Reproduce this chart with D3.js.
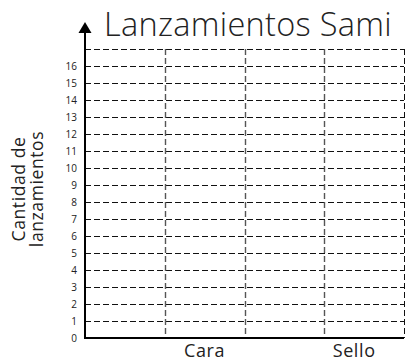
<!DOCTYPE html>
<html>
<head>
<meta charset="utf-8">
<script src="https://cdn.jsdelivr.net/npm/d3@7"></script>
<style>
  html, body { margin: 0; padding: 0; background: #fff; }
  svg { display: block; }
  text { font-family: "Open Sans", Lato, sans-serif; fill: #222; }
</style>
</head>
<body>
<svg id="chart" width="410" height="361"></svg>
<script>
// Chart content
const title = "Lanzamientos Sami";
const yLabelLines = ["Cantidad de", "lanzamientos"];
const columns = ["c1", "c2", "c3", "c4"];          // grid columns
const categories = ["Cara", "Sello"];               // coin outcomes
const categoryColumns = ["c2", "c4"];               // column under each outcome
const counts = [];                                  // no tosses recorded yet
const yTicks = d3.range(0, 17);                     // 0 … 16
const yMax = 17;

const svg = d3.select("#chart");
const margin = { left: 85, right: 6, top: 49, bottom: 23 };
const W = 410, H = 361;

const x = d3.scaleBand().domain(columns).range([margin.left, W - margin.right]);
const y = d3.scaleLinear().domain([0, yMax]).range([H - margin.bottom, margin.top]);
const crisp = v => Math.round(v) + 0.5;

// Horizontal dashed grid lines (1 … 17)
svg.append("g").selectAll("line")
  .data(d3.range(1, yMax + 1))
  .join("line")
  .attr("x1", margin.left).attr("x2", W - margin.right)
  .attr("y1", d => crisp(y(d))).attr("y2", d => crisp(y(d)))
  .attr("stroke", "#111").attr("stroke-width", 1)
  .attr("stroke-dasharray", "6,3");

// Vertical dashed column separators and right border
svg.append("g").selectAll("line")
  .data(columns)
  .join("line")
  .attr("x1", d => crisp(x(d) + x.bandwidth())).attr("x2", d => crisp(x(d) + x.bandwidth()))
  .attr("y1", y(yMax)).attr("y2", y(0))
  .attr("stroke", (d, i) => i === columns.length - 1 ? "#111" : "#555")
  .attr("stroke-width", (d, i) => i === columns.length - 1 ? 1 : 1.4)
  .attr("stroke-dasharray", "6,3");

// Y axis tick labels
const yAxis = d3.axisLeft(y).tickValues(yTicks).tickSize(0).tickPadding(8).tickFormat(d3.format("d"));
const gy = svg.append("g").attr("transform", `translate(${margin.left},0)`).call(yAxis);
gy.select(".domain").remove();
gy.selectAll("text").style("font-size", "10px").style("font-family", "\"Open Sans\", sans-serif").attr("fill", "#222");

// Y axis line with arrow
svg.append("line")
  .attr("x1", margin.left).attr("x2", margin.left)
  .attr("y1", y(0) + 1).attr("y2", 32)
  .attr("stroke", "#000").attr("stroke-width", 2);
svg.append("path")
  .attr("d", `M${margin.left - 6.5},33 L${margin.left + 6.5},33 L${margin.left},22 Z`)
  .attr("fill", "#000");

// X axis baseline
svg.append("line")
  .attr("x1", margin.left - 1).attr("x2", W - margin.right)
  .attr("y1", y(0)).attr("y2", y(0))
  .attr("stroke", "#000").attr("stroke-width", 2);

// Category labels
svg.append("g").selectAll("text")
  .data(categories)
  .join("text")
  .attr("x", (d, i) => x(categoryColumns[i]) + x.bandwidth() / 2 - (i === 1 ? 10 : 0))
  .attr("y", y(0) + 19)
  .attr("text-anchor", "middle")
  .style("font-size", "18px")
  .style("letter-spacing", "0.6px")
  .text(d => d);

// Y axis title (two lines, rotated)
const yl = svg.append("text")
  .attr("transform", "translate(19,189) rotate(-90)")
  .attr("text-anchor", "middle")
  .style("font-size", "17.5px")
  .style("letter-spacing", "0.6px");
yl.selectAll("tspan").data(yLabelLines).join("tspan")
  .attr("x", 0).attr("dy", (d, i) => i === 0 ? "0.35em" : "1.02em")
  .text(d => d);

// Title
svg.append("text")
  .attr("x", 248).attr("y", 36)
  .attr("text-anchor", "middle")
  .style("font-size", "32.5px")
  .style("font-weight", 300)
  .style("letter-spacing", "0.3px")
  .text(title);
</script>
</body>
</html>
